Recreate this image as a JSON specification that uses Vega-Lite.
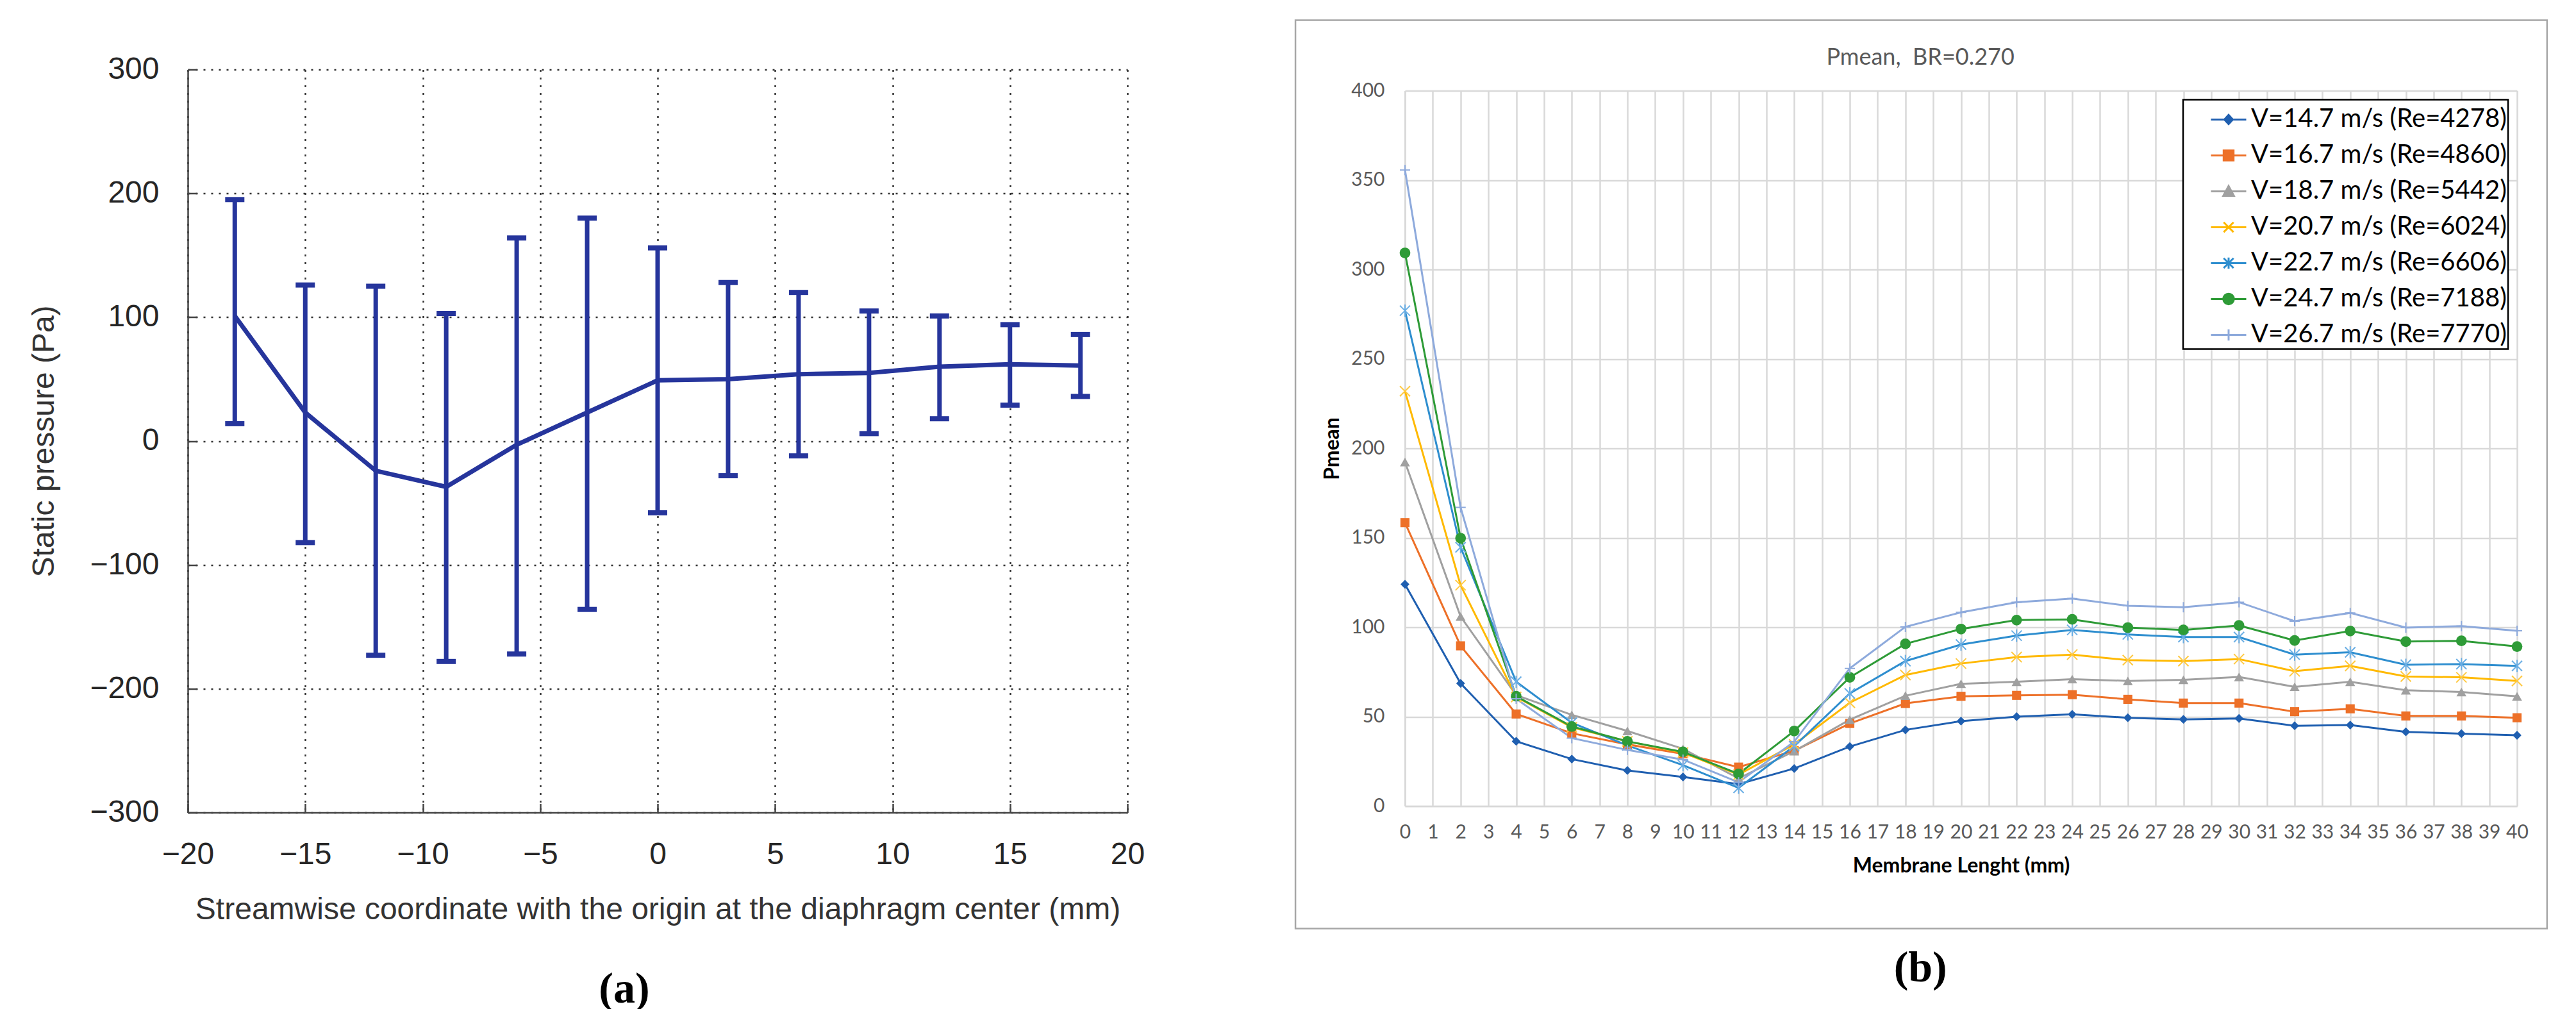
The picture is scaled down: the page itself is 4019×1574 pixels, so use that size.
{
  "$schema": "https://vega.github.io/schema/vega-lite/v6.json",
  "background": "#ffffff",
  "padding": {"left": 45, "top": 30, "right": 10, "bottom": 0},
  "spacing": 233,
  "center": true,
  "resolve": {
    "scale": {"fill": "independent", "stroke": "independent", "shape": "independent"},
    "legend": {"fill": "independent", "stroke": "independent", "shape": "independent"}
  },
  "datasets": {
    "a": [
      {"x": -18, "m": 101, "lo": 14, "hi": 195},
      {"x": -15, "m": 23, "lo": -82, "hi": 126},
      {"x": -12, "m": -24, "lo": -173, "hi": 125},
      {"x": -9, "m": -37, "lo": -178, "hi": 103},
      {"x": -6, "m": -3, "lo": -172, "hi": 164},
      {"x": -3, "m": 23, "lo": -136, "hi": 180},
      {"x": 0, "m": 49, "lo": -58, "hi": 156},
      {"x": 3, "m": 50, "lo": -28, "hi": 128},
      {"x": 6, "m": 54, "lo": -12, "hi": 120},
      {"x": 9, "m": 55, "lo": 6, "hi": 105},
      {"x": 12, "m": 60, "lo": 18, "hi": 101},
      {"x": 15, "m": 62, "lo": 29, "hi": 94},
      {"x": 18, "m": 61, "lo": 36, "hi": 86}
    ],
    "b": [
      {"x": 0, "s": "V=14.7 m/s (Re=4278)", "p": 124},
      {"x": 2, "s": "V=14.7 m/s (Re=4278)", "p": 68.6},
      {"x": 4, "s": "V=14.7 m/s (Re=4278)", "p": 36.2},
      {"x": 6, "s": "V=14.7 m/s (Re=4278)", "p": 26.3},
      {"x": 8, "s": "V=14.7 m/s (Re=4278)", "p": 19.9},
      {"x": 10, "s": "V=14.7 m/s (Re=4278)", "p": 16.3},
      {"x": 12, "s": "V=14.7 m/s (Re=4278)", "p": 12.3},
      {"x": 14, "s": "V=14.7 m/s (Re=4278)", "p": 21},
      {"x": 16, "s": "V=14.7 m/s (Re=4278)", "p": 33.3},
      {"x": 18, "s": "V=14.7 m/s (Re=4278)", "p": 42.6},
      {"x": 20, "s": "V=14.7 m/s (Re=4278)", "p": 47.5},
      {"x": 22, "s": "V=14.7 m/s (Re=4278)", "p": 50},
      {"x": 24, "s": "V=14.7 m/s (Re=4278)", "p": 51.3},
      {"x": 26, "s": "V=14.7 m/s (Re=4278)", "p": 49.4},
      {"x": 28, "s": "V=14.7 m/s (Re=4278)", "p": 48.5},
      {"x": 30, "s": "V=14.7 m/s (Re=4278)", "p": 49},
      {"x": 32, "s": "V=14.7 m/s (Re=4278)", "p": 44.9},
      {"x": 34, "s": "V=14.7 m/s (Re=4278)", "p": 45.3},
      {"x": 36, "s": "V=14.7 m/s (Re=4278)", "p": 41.5},
      {"x": 38, "s": "V=14.7 m/s (Re=4278)", "p": 40.5},
      {"x": 40, "s": "V=14.7 m/s (Re=4278)", "p": 39.6},
      {"x": 0, "s": "V=16.7 m/s (Re=4860)", "p": 158.5},
      {"x": 2, "s": "V=16.7 m/s (Re=4860)", "p": 89.6},
      {"x": 4, "s": "V=16.7 m/s (Re=4860)", "p": 51.5},
      {"x": 6, "s": "V=16.7 m/s (Re=4860)", "p": 40.7},
      {"x": 8, "s": "V=16.7 m/s (Re=4860)", "p": 34.5},
      {"x": 10, "s": "V=16.7 m/s (Re=4860)", "p": 29.2},
      {"x": 12, "s": "V=16.7 m/s (Re=4860)", "p": 21.8},
      {"x": 14, "s": "V=16.7 m/s (Re=4860)", "p": 31},
      {"x": 16, "s": "V=16.7 m/s (Re=4860)", "p": 46.2},
      {"x": 18, "s": "V=16.7 m/s (Re=4860)", "p": 57.4},
      {"x": 20, "s": "V=16.7 m/s (Re=4860)", "p": 61.4},
      {"x": 22, "s": "V=16.7 m/s (Re=4860)", "p": 61.9},
      {"x": 24, "s": "V=16.7 m/s (Re=4860)", "p": 62.3},
      {"x": 26, "s": "V=16.7 m/s (Re=4860)", "p": 59.7},
      {"x": 28, "s": "V=16.7 m/s (Re=4860)", "p": 57.6},
      {"x": 30, "s": "V=16.7 m/s (Re=4860)", "p": 57.6},
      {"x": 32, "s": "V=16.7 m/s (Re=4860)", "p": 52.8},
      {"x": 34, "s": "V=16.7 m/s (Re=4860)", "p": 54.4},
      {"x": 36, "s": "V=16.7 m/s (Re=4860)", "p": 50.4},
      {"x": 38, "s": "V=16.7 m/s (Re=4860)", "p": 50.4},
      {"x": 40, "s": "V=16.7 m/s (Re=4860)", "p": 49.4},
      {"x": 0, "s": "V=18.7 m/s (Re=5442)", "p": 192.4},
      {"x": 2, "s": "V=18.7 m/s (Re=5442)", "p": 106},
      {"x": 4, "s": "V=18.7 m/s (Re=5442)", "p": 62},
      {"x": 6, "s": "V=18.7 m/s (Re=5442)", "p": 51},
      {"x": 8, "s": "V=18.7 m/s (Re=5442)", "p": 42},
      {"x": 10, "s": "V=18.7 m/s (Re=5442)", "p": 32},
      {"x": 12, "s": "V=18.7 m/s (Re=5442)", "p": 15.5},
      {"x": 14, "s": "V=18.7 m/s (Re=5442)", "p": 30.7},
      {"x": 16, "s": "V=18.7 m/s (Re=5442)", "p": 48.3},
      {"x": 18, "s": "V=18.7 m/s (Re=5442)", "p": 61.7},
      {"x": 20, "s": "V=18.7 m/s (Re=5442)", "p": 68.4},
      {"x": 22, "s": "V=18.7 m/s (Re=5442)", "p": 69.5},
      {"x": 24, "s": "V=18.7 m/s (Re=5442)", "p": 71},
      {"x": 26, "s": "V=18.7 m/s (Re=5442)", "p": 70},
      {"x": 28, "s": "V=18.7 m/s (Re=5442)", "p": 70.6},
      {"x": 30, "s": "V=18.7 m/s (Re=5442)", "p": 72.2},
      {"x": 32, "s": "V=18.7 m/s (Re=5442)", "p": 66.7},
      {"x": 34, "s": "V=18.7 m/s (Re=5442)", "p": 69.5},
      {"x": 36, "s": "V=18.7 m/s (Re=5442)", "p": 64.8},
      {"x": 38, "s": "V=18.7 m/s (Re=5442)", "p": 63.8},
      {"x": 40, "s": "V=18.7 m/s (Re=5442)", "p": 61.4},
      {"x": 0, "s": "V=20.7 m/s (Re=6024)", "p": 232},
      {"x": 2, "s": "V=20.7 m/s (Re=6024)", "p": 123.5},
      {"x": 4, "s": "V=20.7 m/s (Re=6024)", "p": 61},
      {"x": 6, "s": "V=20.7 m/s (Re=6024)", "p": 44},
      {"x": 8, "s": "V=20.7 m/s (Re=6024)", "p": 36.2},
      {"x": 10, "s": "V=20.7 m/s (Re=6024)", "p": 29.9},
      {"x": 12, "s": "V=20.7 m/s (Re=6024)", "p": 17.6},
      {"x": 14, "s": "V=20.7 m/s (Re=6024)", "p": 34.5},
      {"x": 16, "s": "V=20.7 m/s (Re=6024)", "p": 57.8},
      {"x": 18, "s": "V=20.7 m/s (Re=6024)", "p": 73.3},
      {"x": 20, "s": "V=20.7 m/s (Re=6024)", "p": 79.7},
      {"x": 22, "s": "V=20.7 m/s (Re=6024)", "p": 83.3},
      {"x": 24, "s": "V=20.7 m/s (Re=6024)", "p": 84.7},
      {"x": 26, "s": "V=20.7 m/s (Re=6024)", "p": 81.6},
      {"x": 28, "s": "V=20.7 m/s (Re=6024)", "p": 81.1},
      {"x": 30, "s": "V=20.7 m/s (Re=6024)", "p": 82.2},
      {"x": 32, "s": "V=20.7 m/s (Re=6024)", "p": 75.4},
      {"x": 34, "s": "V=20.7 m/s (Re=6024)", "p": 78.4},
      {"x": 36, "s": "V=20.7 m/s (Re=6024)", "p": 72.5},
      {"x": 38, "s": "V=20.7 m/s (Re=6024)", "p": 72},
      {"x": 40, "s": "V=20.7 m/s (Re=6024)", "p": 70},
      {"x": 0, "s": "V=22.7 m/s (Re=6606)", "p": 277},
      {"x": 2, "s": "V=22.7 m/s (Re=6606)", "p": 144.7},
      {"x": 4, "s": "V=22.7 m/s (Re=6606)", "p": 69.5},
      {"x": 6, "s": "V=22.7 m/s (Re=6606)", "p": 46.6},
      {"x": 8, "s": "V=22.7 m/s (Re=6606)", "p": 33.9},
      {"x": 10, "s": "V=22.7 m/s (Re=6606)", "p": 22.9},
      {"x": 12, "s": "V=22.7 m/s (Re=6606)", "p": 10.2},
      {"x": 14, "s": "V=22.7 m/s (Re=6606)", "p": 33.5},
      {"x": 16, "s": "V=22.7 m/s (Re=6606)", "p": 63},
      {"x": 18, "s": "V=22.7 m/s (Re=6606)", "p": 81.1},
      {"x": 20, "s": "V=22.7 m/s (Re=6606)", "p": 90.3},
      {"x": 22, "s": "V=22.7 m/s (Re=6606)", "p": 95.3},
      {"x": 24, "s": "V=22.7 m/s (Re=6606)", "p": 98.5},
      {"x": 26, "s": "V=22.7 m/s (Re=6606)", "p": 96},
      {"x": 28, "s": "V=22.7 m/s (Re=6606)", "p": 94.5},
      {"x": 30, "s": "V=22.7 m/s (Re=6606)", "p": 94.5},
      {"x": 32, "s": "V=22.7 m/s (Re=6606)", "p": 84.7},
      {"x": 34, "s": "V=22.7 m/s (Re=6606)", "p": 86},
      {"x": 36, "s": "V=22.7 m/s (Re=6606)", "p": 79},
      {"x": 38, "s": "V=22.7 m/s (Re=6606)", "p": 79.4},
      {"x": 40, "s": "V=22.7 m/s (Re=6606)", "p": 78.4},
      {"x": 0, "s": "V=24.7 m/s (Re=7188)", "p": 309.3},
      {"x": 2, "s": "V=24.7 m/s (Re=7188)", "p": 149.8},
      {"x": 4, "s": "V=24.7 m/s (Re=7188)", "p": 61.4},
      {"x": 6, "s": "V=24.7 m/s (Re=7188)", "p": 44.5},
      {"x": 8, "s": "V=24.7 m/s (Re=7188)", "p": 36.2},
      {"x": 10, "s": "V=24.7 m/s (Re=7188)", "p": 30.3},
      {"x": 12, "s": "V=24.7 m/s (Re=7188)", "p": 18},
      {"x": 14, "s": "V=24.7 m/s (Re=7188)", "p": 42},
      {"x": 16, "s": "V=24.7 m/s (Re=7188)", "p": 72},
      {"x": 18, "s": "V=24.7 m/s (Re=7188)", "p": 90.7},
      {"x": 20, "s": "V=24.7 m/s (Re=7188)", "p": 99},
      {"x": 22, "s": "V=24.7 m/s (Re=7188)", "p": 104},
      {"x": 24, "s": "V=24.7 m/s (Re=7188)", "p": 104.4},
      {"x": 26, "s": "V=24.7 m/s (Re=7188)", "p": 99.8},
      {"x": 28, "s": "V=24.7 m/s (Re=7188)", "p": 98.5},
      {"x": 30, "s": "V=24.7 m/s (Re=7188)", "p": 101},
      {"x": 32, "s": "V=24.7 m/s (Re=7188)", "p": 92.6},
      {"x": 34, "s": "V=24.7 m/s (Re=7188)", "p": 97.9},
      {"x": 36, "s": "V=24.7 m/s (Re=7188)", "p": 92},
      {"x": 38, "s": "V=24.7 m/s (Re=7188)", "p": 92.4},
      {"x": 40, "s": "V=24.7 m/s (Re=7188)", "p": 89.2},
      {"x": 0, "s": "V=26.7 m/s (Re=7770)", "p": 355.6},
      {"x": 2, "s": "V=26.7 m/s (Re=7770)", "p": 167},
      {"x": 4, "s": "V=26.7 m/s (Re=7770)", "p": 60},
      {"x": 6, "s": "V=26.7 m/s (Re=7770)", "p": 38},
      {"x": 8, "s": "V=26.7 m/s (Re=7770)", "p": 31.4},
      {"x": 10, "s": "V=26.7 m/s (Re=7770)", "p": 26},
      {"x": 12, "s": "V=26.7 m/s (Re=7770)", "p": 13.3},
      {"x": 14, "s": "V=26.7 m/s (Re=7770)", "p": 36},
      {"x": 16, "s": "V=26.7 m/s (Re=7770)", "p": 77},
      {"x": 18, "s": "V=26.7 m/s (Re=7770)", "p": 100.2},
      {"x": 20, "s": "V=26.7 m/s (Re=7770)", "p": 108.3},
      {"x": 22, "s": "V=26.7 m/s (Re=7770)", "p": 114},
      {"x": 24, "s": "V=26.7 m/s (Re=7770)", "p": 116},
      {"x": 26, "s": "V=26.7 m/s (Re=7770)", "p": 112},
      {"x": 28, "s": "V=26.7 m/s (Re=7770)", "p": 111.2},
      {"x": 30, "s": "V=26.7 m/s (Re=7770)", "p": 114},
      {"x": 32, "s": "V=26.7 m/s (Re=7770)", "p": 103.4},
      {"x": 34, "s": "V=26.7 m/s (Re=7770)", "p": 108},
      {"x": 36, "s": "V=26.7 m/s (Re=7770)", "p": 99.8},
      {"x": 38, "s": "V=26.7 m/s (Re=7770)", "p": 100.6},
      {"x": 40, "s": "V=26.7 m/s (Re=7770)", "p": 98}
    ]
  },
  "hconcat": [
    {
      "vconcat": [
        {
          "width": 1466,
          "height": 1159,
          "data": {"name": "a"},
          "encoding": {
            "x": {
              "field": "x", "type": "quantitative",
              "scale": {"domain": [-20, 20], "nice": false, "zero": false},
              "title": "Streamwise coordinate with the origin at the diaphragm center (mm)",
              "axis": {
                "values": [-20, -15, -10, -5, 0, 5, 10, 15, 20],
                "grid": true, "gridDash": [3, 9], "gridColor": "#333333", "gridWidth": 2.5,
                "domainColor": "#444444", "domainWidth": 2.5,
                "tickColor": "#444444", "tickWidth": 2.5, "tickSize": -14,
                "labelFont": "Liberation Sans", "labelFontSize": 48, "labelColor": "#262626", "labelPadding": 56, "labelFlush": false,
                "titleFont": "Liberation Sans", "titleFontSize": 48, "titleFontWeight": "normal", "titleColor": "#333333", "titlePadding": 38
              }
            },
            "y": {
              "field": "lo", "type": "quantitative",
              "scale": {"domain": [-300, 300], "nice": false, "zero": false},
              "title": "Static pressure (Pa)",
              "axis": {
                "values": [-300, -200, -100, 0, 100, 200, 300],
                "grid": true, "gridDash": [3, 9], "gridColor": "#333333", "gridWidth": 2.5,
                "domainColor": "#444444", "domainWidth": 2.5,
                "tickColor": "#444444", "tickWidth": 2.5, "tickSize": -14,
                "labelFont": "Liberation Sans", "labelFontSize": 48, "labelColor": "#262626", "labelPadding": 59, "labelFlush": false,
                "titleFont": "Liberation Sans", "titleFontSize": 48, "titleFontWeight": "normal", "titleColor": "#333333", "titlePadding": 46
              }
            }
          },
          "layer": [
            {
              "mark": {"type": "rule", "color": "#26359c", "strokeWidth": 7},
              "encoding": {"y2": {"field": "hi"}}
            },
            {
              "mark": {"type": "tick", "orient": "horizontal", "color": "#26359c", "size": 30, "thickness": 8, "opacity": 1},
              "encoding": {"y": {"field": "hi", "type": "quantitative", "title": "Static pressure (Pa)"}}
            },
            {
              "mark": {"type": "tick", "orient": "horizontal", "color": "#26359c", "size": 30, "thickness": 8, "opacity": 1},
              "encoding": {}
            },
            {
              "mark": {"type": "line", "color": "#26359c", "strokeWidth": 7},
              "encoding": {"y": {"field": "m", "type": "quantitative", "title": "Static pressure (Pa)"}}
            },
            {
              "transform": [{"filter": "datum.x === 0"}],
              "mark": {"type": "rect", "fill": "#ffffff", "fillOpacity": 0, "clip": false},
              "encoding": {
                "x": {"datum": -20, "type": "quantitative", "title": "Streamwise coordinate with the origin at the diaphragm center (mm)"},
                "x2": {"datum": 20},
                "y": {"datum": 300, "type": "quantitative", "title": "Static pressure (Pa)"},
                "y2": {"datum": 321.7}
              }
            },
            {
              "transform": [{"filter": "datum.x === 0"}],
              "mark": {"type": "text", "text": "(a)", "font": "Liberation Serif", "fontSize": 68, "fontWeight": "bold", "color": "#000000", "align": "center", "baseline": "middle", "clip": false},
              "encoding": {
                "x": {"datum": -1.42, "type": "quantitative", "title": "Streamwise coordinate with the origin at the diaphragm center (mm)"},
                "y": {"datum": -442.9, "type": "quantitative", "title": "Static pressure (Pa)"}
              }
            }
          ]
        }
      ]
    },
    {
      "resolve": {
        "scale": {"fill": "independent", "stroke": "independent", "shape": "independent"},
        "legend": {"fill": "independent", "stroke": "independent", "shape": "independent"}
      },
      "vconcat": [
        {
          "width": 1735,
          "height": 1116,
          "data": {"name": "b"},
          "encoding": {
            "x": {
              "field": "x", "type": "quantitative",
              "scale": {"domain": [0, 40], "nice": false, "zero": false},
              "title": "Membrane Lenght (mm)",
              "axis": {
                "values": [0,1,2,3,4,5,6,7,8,9,10,11,12,13,14,15,16,17,18,19,20,21,22,23,24,25,26,27,28,29,30,31,32,33,34,35,36,37,38,39,40],
                "grid": true, "gridColor": "#d9d9d9", "gridWidth": 2.5,
                "domainColor": "#d9d9d9", "domainWidth": 2.5, "ticks": false,
                "labelFont": "Lato", "labelFontSize": 30, "labelColor": "#595959", "labelPadding": 26, "labelFlush": false, "labelOverlap": false,
                "titleFont": "Lato", "titleFontSize": 32, "titleFontWeight": "bold", "titleColor": "#000000", "titlePadding": 22
              }
            },
            "y": {
              "field": "p", "type": "quantitative",
              "scale": {"domain": [0, 400], "nice": false, "zero": false},
              "title": "Pmean",
              "axis": {
                "values": [0, 50, 100, 150, 200, 250, 300, 350, 400],
                "grid": true, "gridColor": "#d9d9d9", "gridWidth": 2.5,
                "domainColor": "#d9d9d9", "domainWidth": 2.5, "ticks": false,
                "labelFont": "Lato", "labelFontSize": 30, "labelColor": "#595959", "labelPadding": 32, "labelFlush": false,
                "titleFont": "Lato", "titleFontSize": 32, "titleFontWeight": "bold", "titleColor": "#000000", "titlePadding": 12
              }
            }
          },
          "layer": [
            {
              "transform": [{"filter": "datum.x === 0 && datum.s === 'V=14.7 m/s (Re=4278)'"}],
              "mark": {"type": "rect", "fill": "#ffffff", "fillOpacity": 0, "stroke": "#a6a6a6", "strokeWidth": 2.5, "clip": false},
              "encoding": {
                "x": {"datum": -3.94, "type": "quantitative", "title": "Membrane Lenght (mm)"},
                "x2": {"datum": 41.08},
                "y": {"datum": 439.4, "type": "quantitative", "title": "Pmean"},
                "y2": {"datum": -68.5}
              }
            },
            {
              "transform": [{"filter": "datum.x === 0 && datum.s === 'V=14.7 m/s (Re=4278)'"}],
              "mark": {"type": "text", "text": "Pmean,\u00a0 BR=0.270", "font": "Lato", "fontSize": 36, "color": "#595959", "align": "center", "baseline": "middle", "clip": false},
              "encoding": {
                "x": {"datum": 18.54, "type": "quantitative", "title": "Membrane Lenght (mm)"},
                "y": {"datum": 418.6, "type": "quantitative", "title": "Pmean"}
              }
            },
            {
              "transform": [{"filter": "datum.x === 0 && datum.s === 'V=14.7 m/s (Re=4278)'"}],
              "mark": {"type": "text", "text": "(b)", "font": "Liberation Serif", "fontSize": 68, "fontWeight": "bold", "color": "#000000", "align": "center", "baseline": "middle", "clip": false},
              "encoding": {
                "x": {"datum": 18.54, "type": "quantitative", "title": "Membrane Lenght (mm)"},
                "y": {"datum": -90.7, "type": "quantitative", "title": "Pmean"}
              }
            },
            {"transform": [{"filter": "datum.s === 'V=14.7 m/s (Re=4278)'"}], "mark": {"type": "line", "strokeWidth": 3, "color": "#1f5fb0"}, "encoding": {}},
            {"transform": [{"filter": "datum.s === 'V=16.7 m/s (Re=4860)'"}], "mark": {"type": "line", "strokeWidth": 3, "color": "#ed7028"}, "encoding": {}},
            {"transform": [{"filter": "datum.s === 'V=18.7 m/s (Re=5442)'"}], "mark": {"type": "line", "strokeWidth": 3, "color": "#a0a0a0"}, "encoding": {}},
            {"transform": [{"filter": "datum.s === 'V=20.7 m/s (Re=6024)'"}], "mark": {"type": "line", "strokeWidth": 3, "color": "#ffb900"}, "encoding": {}},
            {"transform": [{"filter": "datum.s === 'V=22.7 m/s (Re=6606)'"}], "mark": {"type": "line", "strokeWidth": 3, "color": "#2e8ecf"}, "encoding": {}},
            {"transform": [{"filter": "datum.s === 'V=24.7 m/s (Re=7188)'"}], "mark": {"type": "line", "strokeWidth": 3, "color": "#2e9b37"}, "encoding": {}},
            {"transform": [{"filter": "datum.s === 'V=26.7 m/s (Re=7770)'"}], "mark": {"type": "line", "strokeWidth": 3, "color": "#8eaadc"}, "encoding": {}},
            {
              "transform": [{"filter": "datum.s === 'V=14.7 m/s (Re=4278)'"}],
              "mark": {"type": "point", "shape": "diamond", "filled": true, "size": 190, "opacity": 1, "color": "#1f5fb0"}
            },
            {
              "transform": [{"filter": "datum.s === 'V=16.7 m/s (Re=4860)'"}],
              "mark": {"type": "point", "shape": "square", "filled": true, "size": 200, "opacity": 1, "color": "#ed7028"}
            },
            {
              "transform": [{"filter": "datum.s === 'V=18.7 m/s (Re=5442)'"}],
              "mark": {"type": "point", "shape": "triangle-up", "filled": true, "size": 240, "opacity": 1, "color": "#a0a0a0"}
            },
            {
              "transform": [{"filter": "datum.s === 'V=20.7 m/s (Re=6024)'"}],
              "mark": {"type": "point", "shape": "M-1,-1L1,1M-1,1L1,-1", "filled": false, "size": 256, "strokeWidth": 2, "opacity": 1, "color": "#ffc940"}
            },
            {
              "transform": [{"filter": "datum.s === 'V=22.7 m/s (Re=6606)'"}],
              "mark": {"type": "point", "shape": "M-1,-1L1,1M-1,1L1,-1M0,-1.2L0,1.2", "filled": false, "size": 256, "strokeWidth": 2, "opacity": 1, "color": "#6aaee4"}
            },
            {
              "transform": [{"filter": "datum.s === 'V=24.7 m/s (Re=7188)'"}],
              "mark": {"type": "point", "shape": "circle", "filled": true, "size": 280, "opacity": 1, "color": "#2e9b37"}
            },
            {
              "transform": [{"filter": "datum.s === 'V=26.7 m/s (Re=7770)'"}],
              "mark": {"type": "point", "shape": "M-1,0L1,0M0,-1L0,1", "filled": false, "size": 256, "strokeWidth": 2, "opacity": 1, "color": "#8eaadc"}
            },
            {
              "transform": [{"filter": "false"}],
              "mark": {"type": "point", "filled": true, "strokeWidth": 3},
              "encoding": {
                "fill": {"field": "s", "type": "nominal",
                  "scale": {"domain": ["V=14.7 m/s (Re=4278)", "V=16.7 m/s (Re=4860)", "V=18.7 m/s (Re=5442)", "V=20.7 m/s (Re=6024)", "V=22.7 m/s (Re=6606)", "V=24.7 m/s (Re=7188)", "V=26.7 m/s (Re=7770)"],
                            "range": ["#1f5fb0", "#ed7028", "#a0a0a0", "#ffb900", "#2e8ecf", "#2e9b37", "#8eaadc"]},
                  "legend": {"title": null, "orient": "top-right", "offset": 14, "padding": 2, "symbolOffset": 40, "labelOffset": 6, "rowPadding": 7, "labelFont": "Lato", "labelFontSize": 40, "labelColor": "#000000", "labelLimit": 0, "symbolSize": 3025, "symbolStrokeWidth": 3, "symbolOpacity": 1, "strokeColor": "#000000", "fillColor": "#ffffff"}},
                "stroke": {"field": "s", "type": "nominal",
                  "scale": {"domain": ["V=14.7 m/s (Re=4278)", "V=16.7 m/s (Re=4860)", "V=18.7 m/s (Re=5442)", "V=20.7 m/s (Re=6024)", "V=22.7 m/s (Re=6606)", "V=24.7 m/s (Re=7188)", "V=26.7 m/s (Re=7770)"],
                            "range": ["#1f5fb0", "#ed7028", "#a0a0a0", "#ffb900", "#2e8ecf", "#2e9b37", "#8eaadc"]},
                  "legend": {"title": null, "orient": "top-right", "offset": 14, "padding": 2, "symbolOffset": 40, "labelOffset": 6, "rowPadding": 7, "labelFont": "Lato", "labelFontSize": 40, "labelColor": "#000000", "labelLimit": 0, "symbolSize": 3025, "symbolStrokeWidth": 3, "symbolOpacity": 1, "strokeColor": "#000000", "fillColor": "#ffffff"}},
                "shape": {"field": "s", "type": "nominal",
                  "scale": {"domain": ["V=14.7 m/s (Re=4278)", "V=16.7 m/s (Re=4860)", "V=18.7 m/s (Re=5442)", "V=20.7 m/s (Re=6024)", "V=22.7 m/s (Re=6606)", "V=24.7 m/s (Re=7188)", "V=26.7 m/s (Re=7770)"],
                            "range": [
                              "M-1,0L1,0M0,-0.26L0.24,0L0,0.26L-0.24,0Z",
                              "M-1,0L1,0M-0.28,-0.28L0.28,-0.28L0.28,0.28L-0.28,0.28Z",
                              "M-1,0L1,0M0,-0.3L0.3,0.26L-0.3,0.26Z",
                              "M-1,0L1,0M-0.28,-0.28L0.28,0.28M-0.28,0.28L0.28,-0.28",
                              "M-1,0L1,0M-0.28,-0.28L0.28,0.28M-0.28,0.28L0.28,-0.28M0,-0.32L0,0.32",
                              "M-1,0L1,0M0.3,0A0.3,0.3,0,1,1,-0.3,0A0.3,0.3,0,1,1,0.3,0Z",
                              "M-1,0L1,0M0,-0.32L0,0.32"
                            ]},
                  "legend": {"title": null, "orient": "top-right", "offset": 14, "padding": 2, "symbolOffset": 40, "labelOffset": 6, "rowPadding": 7, "labelFont": "Lato", "labelFontSize": 40, "labelColor": "#000000", "labelLimit": 0, "symbolSize": 3025, "symbolStrokeWidth": 3, "symbolOpacity": 1, "strokeColor": "#000000", "fillColor": "#ffffff"}}
              }
            }
          ]
        }
      ]
    }
  ],
  "config": {
    "view": {"stroke": null},
    "legend": {"strokeWidth": 2.5}
  }
}
